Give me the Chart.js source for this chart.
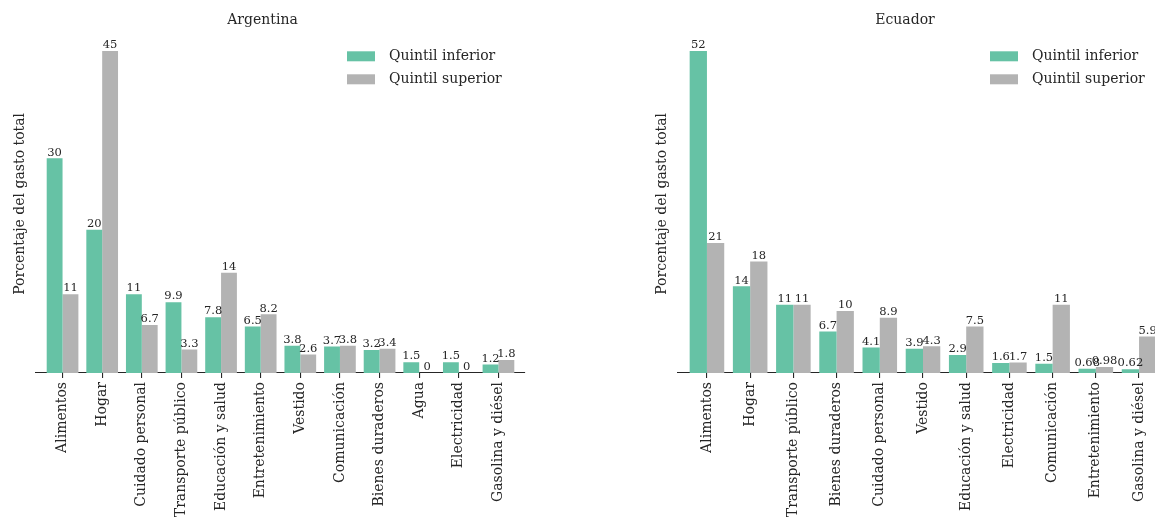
<!DOCTYPE html>
<html lang="es">
<head>
    <meta charset="UTF-8">
    <title>Gasto por quintil: Argentina y Ecuador</title>
    <script src="https://cdn.jsdelivr.net/npm/chart.js"></script>
    <style>
        html, body { margin: 0; padding: 0; background: #fff; overflow: hidden; }
        body { width: 1155px; height: 529px; position: relative; }
        .panel { position: absolute; top: 0; height: 529px; }
        #argPanel { left: 0; width: 545px; }
        #ecuPanel { left: 642px; width: 546px; }
    </style>
</head>
<body>
    <div class="panel" id="argPanel"><canvas id="argChart"></canvas></div>
    <div class="panel" id="ecuPanel"><canvas id="ecuChart"></canvas></div>

    <script>
        // Argentina
        const argCategories = ["Alimentos", "Hogar", "Cuidado personal", "Transporte público", "Educación y salud",
            "Entretenimiento", "Vestido", "Comunicación", "Bienes duraderos", "Agua", "Electricidad", "Gasolina y diésel"];
        const argInferior = [30, 20, 11, 9.9, 7.8, 6.5, 3.8, 3.7, 3.2, 1.5, 1.5, 1.2];
        const argSuperior = [11, 45, 6.7, 3.3, 14, 8.2, 2.6, 3.8, 3.4, 0, 0, 1.8];

        // Ecuador
        const ecuCategories = ["Alimentos", "Hogar", "Transporte público", "Bienes duraderos", "Cuidado personal",
            "Vestido", "Educación y salud", "Electricidad", "Comunicación", "Entretenimiento", "Gasolina y diésel"];
        const ecuInferior = [52, 14, 11, 6.7, 4.1, 3.9, 2.9, 1.6, 1.5, 0.68, 0.62];
        const ecuSuperior = [21, 18, 11, 10, 8.9, 4.3, 7.5, 1.7, 11, 0.98, 5.9];

        const seriesNames = ["Quintil inferior", "Quintil superior"];
        const seriesColors = ["#66c2a5", "#b3b3b3"];

        const FONT = "DejaVu Serif";
        const INK = "#262626";
        Chart.defaults.font.family = FONT;
        Chart.defaults.color = INK;

        // value labels above each bar
        const barLabels = {
            id: "barLabels",
            afterDatasetsDraw(chart) {
                const ctx = chart.ctx;
                ctx.save();
                ctx.font = "11.5px '" + FONT + "'";
                ctx.fillStyle = INK;
                ctx.textAlign = "center";
                ctx.textBaseline = "bottom";
                chart.data.datasets.forEach((ds, i) => {
                    chart.getDatasetMeta(i).data.forEach((bar, j) => {
                        ctx.fillText(String(ds.data[j].y), bar.x, bar.y);
                    });
                });
                ctx.restore();
            }
        };

        // legend inside the plot, top right, stacked
        const innerLegend = {
            id: "innerLegend",
            afterDraw(chart) {
                const ctx = chart.ctx;
                const area = chart.chartArea;
                const x0 = area.right - 178;
                ctx.save();
                ctx.font = "14px '" + FONT + "'";
                ctx.textBaseline = "middle";
                chart.data.datasets.forEach((ds, i) => {
                    const cy = area.top + 21.5 + i * 23;
                    ctx.fillStyle = ds.backgroundColor;
                    ctx.fillRect(x0, cy - 5, 28, 10);
                    ctx.fillStyle = INK;
                    ctx.fillText(ds.label, x0 + 42, cy);
                });
                ctx.restore();
            }
        };

        function makeChart(id, title, cats, inferior, superior) {
            const pts = arr => arr.map((v, i) => ({ x: i, y: v }));
            const top = Math.max(...inferior, ...superior) * 1.05;
            return new Chart(document.getElementById(id), {
                type: "bar",
                data: {
                    datasets: [
                        { label: seriesNames[0], data: pts(inferior), backgroundColor: seriesColors[0] },
                        { label: seriesNames[1], data: pts(superior), backgroundColor: seriesColors[1] }
                    ]
                },
                options: {
                    responsive: true,
                    maintainAspectRatio: false,
                    animation: false,
                    categoryPercentage: 0.8,
                    barPercentage: 1.0,
                    layout: { padding: { left: 0, right: 20, top: 0, bottom: 0 } },
                    plugins: {
                        legend: { display: false },
                        tooltip: { enabled: false },
                        title: {
                            display: true,
                            text: title,
                            color: INK,
                            font: { size: 14, weight: "normal" },
                            padding: { top: 12, bottom: 6 }
                        }
                    },
                    scales: {
                        x: {
                            type: "linear",
                            offset: false,
                            min: -0.67,
                            max: cats.length - 1 + 0.67,
                            afterBuildTicks: s => { s.ticks = cats.map((_, i) => ({ value: i })); },
                            afterFit: s => { s.height = 156; },
                            grid: { offset: false, drawOnChartArea: false, drawTicks: true, tickLength: 5, color: INK, lineWidth: 1.1 },
                            border: { display: true, color: INK, width: 1.1 },
                            ticks: {
                                autoSkip: false,
                                minRotation: 90,
                                maxRotation: 90,
                                padding: 4,
                                color: INK,
                                font: { size: 14 },
                                callback: v => cats[v]
                            }
                        },
                        y: {
                            min: 0,
                            max: top,
                            afterFit: s => { s.width = 36; },
                            grid: { display: false },
                            border: { display: false },
                            ticks: { display: false },
                            title: {
                                display: true,
                                text: "Porcentaje del gasto total",
                                color: INK,
                                font: { size: 14 },
                                padding: { top: 12, bottom: 0 }
                            }
                        }
                    }
                },
                plugins: [barLabels, innerLegend]
            });
        }

        makeChart("argChart", "Argentina", argCategories, argInferior, argSuperior);
        makeChart("ecuChart", "Ecuador", ecuCategories, ecuInferior, ecuSuperior);
    </script>
</body>
</html>
